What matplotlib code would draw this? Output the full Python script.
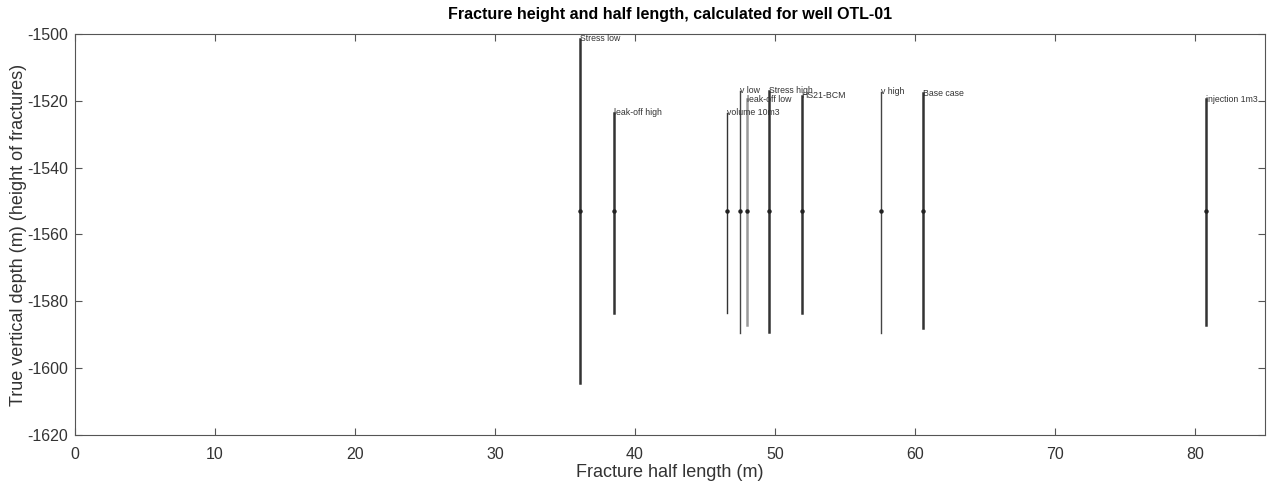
import numpy as np
import matplotlib.pyplot as plt

plt.rcParams['font.family'] = ['Liberation Sans', 'DejaVu Sans']
plt.rcParams['axes.unicode_minus'] = False

# Fracture cases: half length (m), top and bottom of fracture (m TVD)
casos = ['Stress low', 'leak-off high', 'volume 10m3', 'v low', 'leak-off low',
         'Stress high', 'HS21-BCM', 'v high', 'Base case', 'injection 1m3']
half_length = [36.1, 38.5, 46.6, 47.5, 48.0, 49.6, 51.9, 57.6, 60.6, 80.8]
tope = [-1501.5, -1523.5, -1523.5, -1517.0, -1519.5, -1517.0, -1518.5, -1517.3, -1517.7, -1519.5]
base = [-1604.4, -1583.5, -1583.5, -1589.5, -1587.0, -1589.3, -1583.5, -1589.5, -1588.0, -1587.0]
centro = [-1553] * len(casos)

anchos = [1.8, 1.8, 1.0, 1.0, 1.8, 1.8, 1.8, 1.0, 1.8, 1.8]
colores = ['#333333', '#333333', '#333333', '#444444', '#999999',
           '#333333', '#333333', '#444444', '#333333', '#333333']

fig = plt.figure(figsize=(12.81, 4.96), dpi=100)
ax = fig.add_axes([0.0585, 0.123, 0.929, 0.8085])

for i in range(len(casos)):
    ax.plot([half_length[i], half_length[i]], [tope[i], base[i]],
            color=colores[i], lw=anchos[i])
    ax.plot(half_length[i], centro[i], 'o', color='#222222', ms=2.2)
    ax.text(half_length[i], tope[i], casos[i], fontsize=6.3, color='#333333',
            ha='left', va='center')

ax.set_xlim(0, 85)
ax.set_ylim(-1620, -1500)
ax.set_xticks(np.arange(0, 81, 10))
ax.set_yticks(np.arange(-1620, -1499, 20))

ax.tick_params(direction='in', top=True, right=True, labelsize=11.5,
               colors='#555555', labelcolor='#333333', length=5)
ax.tick_params(axis='x', pad=9)
ax.tick_params(axis='y', pad=5)
for s in ax.spines.values():
    s.set_color('#555555')
    s.set_linewidth(0.8)

ax.set_xlabel('Fracture half length (m)', fontsize=13, color='#333333', labelpad=1)
ax.set_ylabel('True vertical depth (m) (height of fractures)', fontsize=13,
              color='#333333', labelpad=0)
ax.set_title('Fracture height and half length, calculated for well OTL-01',
             fontsize=11.5, fontweight='bold', pad=11)

fig.savefig('out.png', dpi=100)
